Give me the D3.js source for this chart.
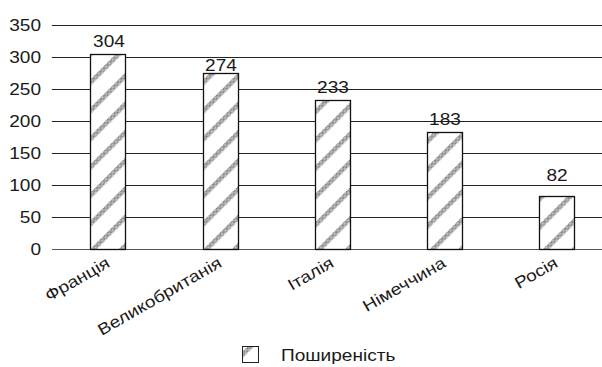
<!DOCTYPE html>
<html><head><meta charset="utf-8">
<script src="https://cdn.jsdelivr.net/npm/d3@7"></script>
<style>body{margin:0;background:#fff}svg{display:block}text{font-family:"Liberation Sans",Arial,sans-serif;fill:#1a1a1a;font-size:16.3px}</style>
</head><body>
<script>
const categories = ["Франція","Великобританія","Італія","Німеччина","Росія"];
const values = [304, 274, 233, 183, 82];
const yTicks = [0, 50, 100, 150, 200, 250, 300, 350];
const seriesName = "Поширеність";

// layout: gap in px between value label baseline and bar top
const labelGaps = [7, 2, 7, 7, 15];

const W = 602, H = 367, SX = 1.17;
const svg = d3.select("body").append("svg").attr("width", W).attr("height", H);
const defs = svg.append("defs");
const dots = defs.append("pattern").attr("id","dots").attr("patternUnits","userSpaceOnUse")
  .attr("width",2).attr("height",2);
dots.append("rect").attr("width",2).attr("height",2).attr("fill","#d0d0d0");
dots.append("rect").attr("width",1).attr("height",1).attr("fill","#7a7a7a");
dots.append("rect").attr("x",1).attr("y",1).attr("width",1).attr("height",1).attr("fill","#7a7a7a");
const hatch = defs.append("pattern").attr("id","hatch").attr("patternUnits","userSpaceOnUse")
  .attr("width",20).attr("height",20).attr("patternTransform","rotate(45)");
hatch.append("rect").attr("width",20).attr("height",20).attr("fill","#fff");
hatch.append("rect").attr("x",0).attr("width",4.5).attr("height",20).attr("fill","url(#dots)");

const x = d3.scaleBand().domain(categories).range([52, 612]).paddingInner(0.69).paddingOuter(0.345);
const y = d3.scaleLinear().domain([0, 350]).range([249, 24.5]);
const cx = c => x(c) + x.bandwidth()/2;

const grid = svg.append("g");
grid.selectAll("line").data(yTicks).join("line")
  .attr("x1", 52).attr("x2", W).attr("y1", d => Math.round(y(d))+0.5).attr("y2", d => Math.round(y(d))+0.5)
  .attr("stroke", d => d===0 ? "#555" : "#222").attr("stroke-width", 1);

const yAxis = svg.append("g").attr("transform","translate(52,0)")
  .call(d3.axisLeft(y).tickValues(yTicks).tickSize(0).tickFormat(""));
yAxis.select(".domain").remove();
yAxis.selectAll(".tick").append("text")
  .attr("transform", `translate(-11,0) scale(${SX},1)`).attr("dy","0.36em")
  .attr("text-anchor","end").attr("fill","#1a1a1a").style("font-size","16.3px").text(d => d);

const bw = 35;
svg.append("g").selectAll("rect").data(values).join("rect")
  .attr("x", (d,i) => Math.round(cx(categories[i]) - bw/2) + 0.5)
  .attr("y", d => Math.round(y(d)) + 0.5)
  .attr("width", bw)
  .attr("height", d => Math.round(y(0)) - Math.round(y(d)))
  .attr("fill","url(#hatch)").attr("stroke","#111").attr("stroke-width",1.3);

svg.append("g").selectAll("text").data(values).join("text")
  .attr("transform", (d,i) => `translate(${cx(categories[i]) + 1},${y(d) - labelGaps[i]}) scale(${SX},1)`)
  .attr("text-anchor","middle").text(d => d);

svg.append("g").selectAll("text").data(categories).join("text")
  .attr("transform", d => `translate(${cx(d)+3},${266}) rotate(-30) scale(${SX},1)`)
  .attr("text-anchor","end").text(d => d);

const lg = svg.append("g");
lg.append("rect").attr("x",242.5).attr("y",346.5).attr("width",16).attr("height",16)
  .attr("fill","url(#hatch)").attr("stroke","#222").attr("stroke-width",1);
lg.append("text").attr("transform", `translate(281,361) scale(${SX},1)`).text(seriesName);
</script>
</body></html>
